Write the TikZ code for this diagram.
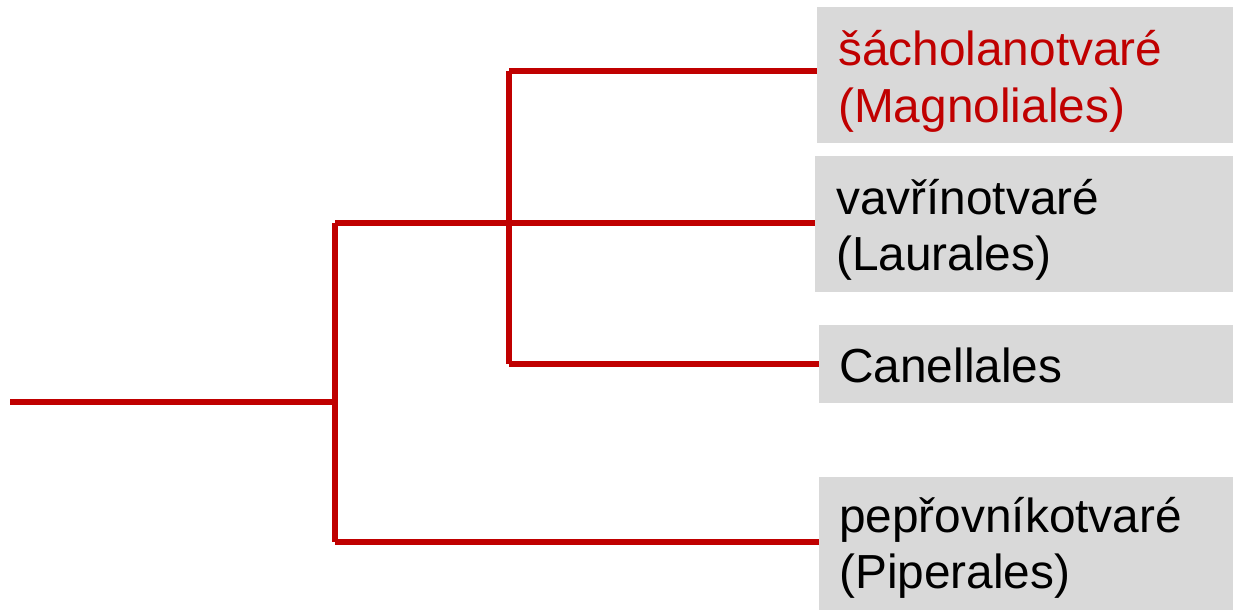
\documentclass[tikz,border=0pt]{standalone}
\usepackage{fontspec}
\setmainfont{Liberation Sans}
\definecolor{treered}{HTML}{C00000}
\definecolor{boxgray}{HTML}{D9D9D9}
\begin{document}
\begin{tikzpicture}[x=1pt,y=-1pt,
  branch/.style={draw=treered, line width=6pt},
  taxon/.style={fill=boxgray, inner sep=0pt, anchor=north west},
  taxtext/.style={anchor=base west, inner sep=0pt, font=\fontsize{47.8}{57}\selectfont}
]
\useasboundingbox (0,0) rectangle (1233,610);

% order boxes
\node[taxon, minimum width=416pt, minimum height=136pt] (magn) at (817,7) {};
\node[taxon, minimum width=418pt, minimum height=136pt] (laur) at (815,156) {};
\node[taxon, minimum width=414pt, minimum height=78pt]  (cane) at (819,325) {};
\node[taxon, minimum width=414pt, minimum height=133pt] (pipe) at (819,477) {};

% labels
\node[taxtext, text=treered] (magn1) at (838,65)  {šácholanotvaré};
\node[taxtext, text=treered] (magn2) at (838,122) {(Magnoliales)};
\node[taxtext] (laur1) at (836,214) {vavřínotvaré};
\node[taxtext] (laur2) at (836,270) {(Laurales)};
\node[taxtext] (cane1) at (839,382) {Canellales};
\node[taxtext] (pipe1) at (839,532) {pepřovníkotvaré};
\node[taxtext] (pipe2) at (839,588) {(Piperales)};

% branching points
\coordinate (root) at (10,402);
\coordinate (n1) at (335,402);
\coordinate (n2) at (509,222);

% tree
\draw[branch] (root) -- (n1);
\draw[branch] (n1 |- 0,223) -- (n1 |- 0,542);
\draw[branch] (n1 |- 0,223) -- (laur.west |- 0,223);
\draw[branch] (n1 |- 0,542) -- (pipe.west |- 0,542);
\draw[branch] (n2 |- 0,71) -- (n2 |- 0,364);
\draw[branch] (n2 |- 0,71) -- (magn.west |- 0,71);
\draw[branch] (n2 |- 0,364) -- (cane.west |- 0,364);
\end{tikzpicture}
\end{document}
